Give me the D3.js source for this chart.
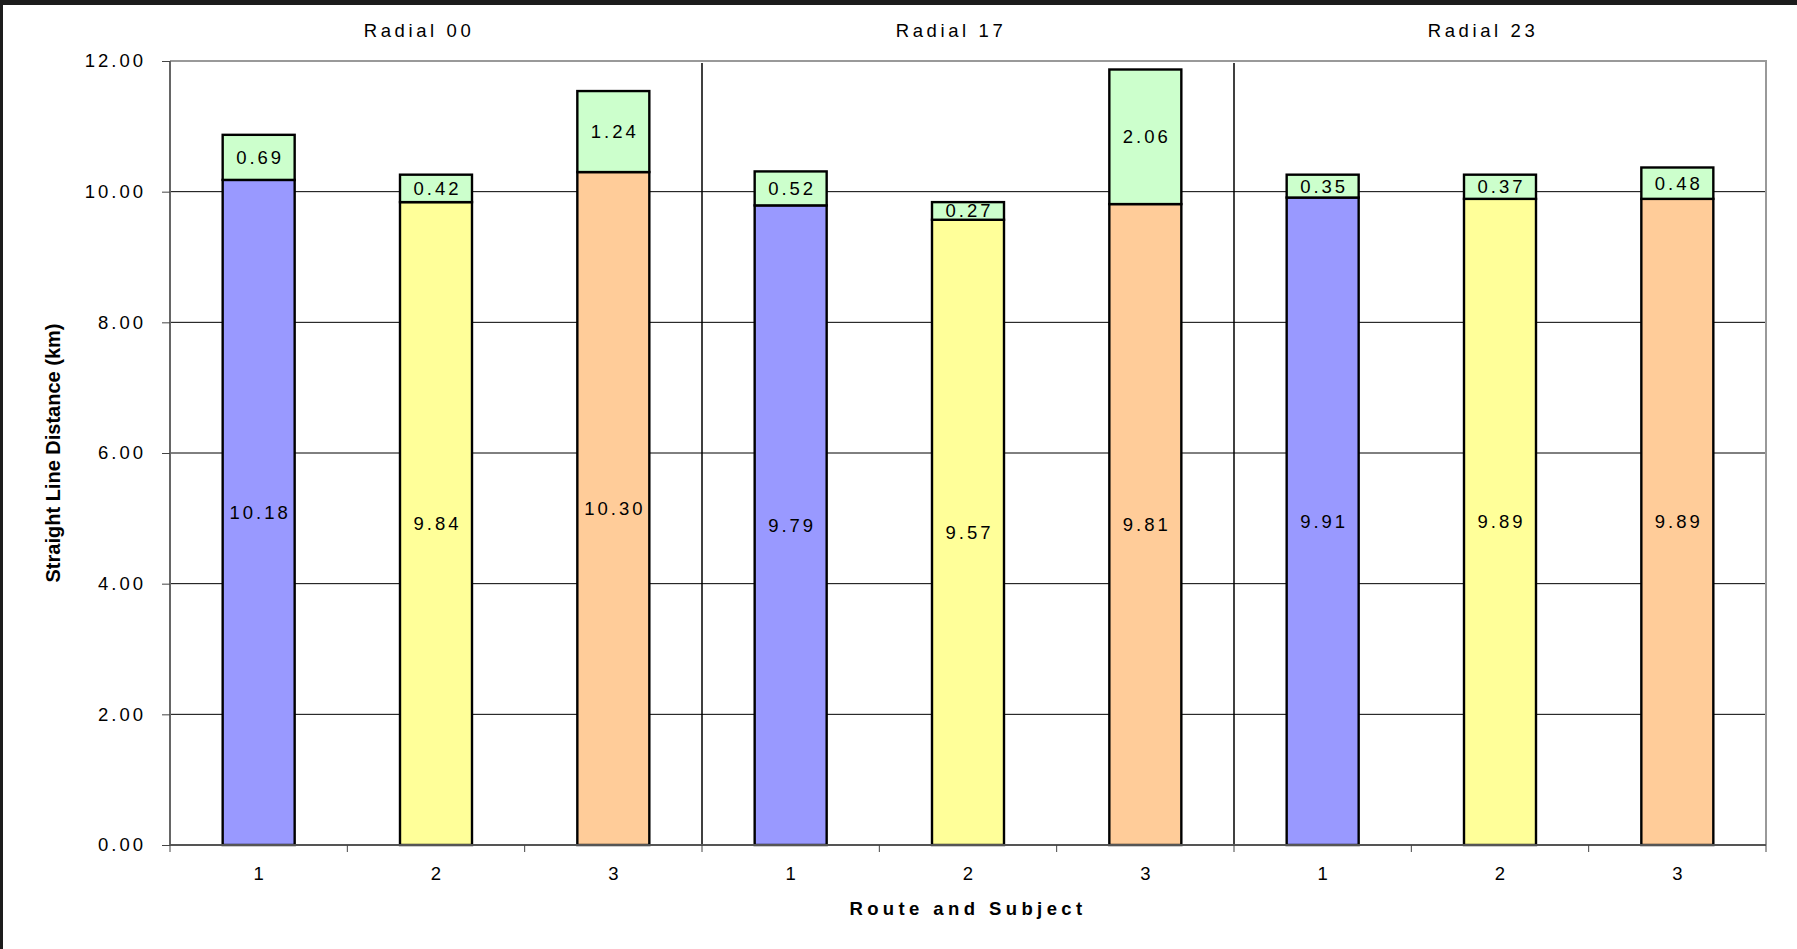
<!DOCTYPE html>
<html>
<head>
<meta charset="utf-8">
<script src="https://cdn.jsdelivr.net/npm/d3@7"></script>
<style>
  body { margin: 0; background: #ffffff; overflow: hidden; }
  text { font-family: "Liberation Sans", Arial, sans-serif; fill: #000; }
</style>
</head>
<body>
<div id="chart"></div>
<script>

// chart values
let radials = ["Radial 00", "Radial 17", "Radial 23"];
let subjects = ["1", "2", "3"];
let baseValues = [10.18, 9.84, 10.30, 9.79, 9.57, 9.81, 9.91, 9.89, 9.89];
let extraValues = [0.69, 0.42, 1.24, 0.52, 0.27, 2.06, 0.35, 0.37, 0.48];
let yTicks = [0, 2, 4, 6, 8, 10, 12];
let subjectColors = ["#9999ff", "#ffff99", "#ffcc99"];
let extraColor = "#ccffcc";

let svgWidth = 1797;
let svgHeight = 949;

let margin = {
    top: 61,
    right: 31,
    bottom: 104,
    left: 170
};

let width = svgWidth - margin.left - margin.right;
let height = svgHeight - margin.top - margin.bottom;

let svg = d3.select("#chart")
    .append("svg")
    .attr("width", svgWidth)
    .attr("height", svgHeight);

// dark frame edges of the original screenshot
svg.append("rect").attr("x", 0).attr("y", 0).attr("width", svgWidth).attr("height", 5).attr("fill", "#1c1c1c");
svg.append("rect").attr("x", 0).attr("y", 0).attr("width", 3).attr("height", svgHeight).attr("fill", "#1c1c1c");

let chartGroup = svg.append("g")
    .attr("transform", `translate(${margin.left}, ${margin.top})`);

let rows = [];
radials.forEach((r, i) => {
    subjects.forEach((s, j) => {
        let k = i * subjects.length + j;
        rows.push({ key: r + "-" + s, radial: i, subject: j, label: s, base: baseValues[k], extra: extraValues[k] });
    });
});

let xScale = d3.scaleBand()
    .domain(rows.map(d => d.key))
    .range([0, width])
    .paddingInner(0.594)
    .paddingOuter(0.297);

let yScale = d3.scaleLinear()
    .domain([0, 12])
    .range([height, 0]);

let step = xScale.step();

// gridlines
chartGroup.selectAll(".grid")
    .data(yTicks.filter(t => t > 0 && t < 12))
    .enter()
    .append("line")
    .attr("x1", 0)
    .attr("x2", width)
    .attr("y1", d => yScale(d))
    .attr("y2", d => yScale(d))
    .attr("stroke", "#000")
    .attr("stroke-width", 1);

// plot border top / right
chartGroup.append("path")
    .attr("d", `M0,${yScale(12)}H${width}V${height}`)
    .attr("fill", "none")
    .attr("stroke", "#999")
    .attr("stroke-width", 2);

// radial dividers
chartGroup.selectAll(".divider")
    .data([1, 2])
    .enter()
    .append("line")
    .attr("x1", d => d * 3 * step)
    .attr("x2", d => d * 3 * step)
    .attr("y1", 2)
    .attr("y2", height)
    .attr("stroke", "#000")
    .attr("stroke-width", 1.5);

// bars
let bars = chartGroup.selectAll(".bar")
    .data(rows)
    .enter()
    .append("g");

bars.append("rect")
    .attr("x", d => xScale(d.key))
    .attr("y", d => yScale(d.base))
    .attr("width", xScale.bandwidth())
    .attr("height", d => height - yScale(d.base))
    .attr("fill", d => subjectColors[d.subject])
    .attr("stroke", "#000")
    .attr("stroke-width", 2.4);

bars.append("rect")
    .attr("x", d => xScale(d.key))
    .attr("y", d => yScale(d.base + d.extra))
    .attr("width", xScale.bandwidth())
    .attr("height", d => yScale(d.base) - yScale(d.base + d.extra))
    .attr("fill", extraColor)
    .attr("stroke", "#000")
    .attr("stroke-width", 2.4);

bars.append("text")
    .attr("x", d => xScale(d.key) + xScale.bandwidth() / 2 + 1.5)
    .attr("y", d => yScale(d.base / 2))
    .attr("dy", "0.35em")
    .attr("text-anchor", "middle")
    .attr("font-size", "18.5px")
    .attr("letter-spacing", "3px")
    .text(d => d.base.toFixed(2));

bars.append("text")
    .attr("x", d => xScale(d.key) + xScale.bandwidth() / 2 + 1.5)
    .attr("y", d => yScale(d.base + d.extra / 2))
    .attr("dy", "0.35em")
    .attr("text-anchor", "middle")
    .attr("font-size", "18.5px")
    .attr("letter-spacing", "3px")
    .text(d => d.extra.toFixed(2));

// axes
let leftAxis = d3.axisLeft(yScale)
    .tickValues(yTicks)
    .tickSize(8)
    .tickPadding(16)
    .tickFormat(d3.format(".2f"));

let yAxis = chartGroup.append("g")
    .call(leftAxis);

yAxis.select(".domain").attr("stroke", "#666").attr("stroke-width", 2).attr("d", `M0,0V${height}`);
yAxis.selectAll(".tick line").attr("stroke", "#444");
yAxis.selectAll(".tick text")
    .attr("font-size", "18.5px")
    .attr("letter-spacing", "3px")
    .attr("font-family", "Liberation Sans, Arial, sans-serif")
    .attr("fill", "#000");

let xAxis = chartGroup.append("g")
    .attr("transform", `translate(0, ${height})`);

xAxis.append("line")
    .attr("x1", 0)
    .attr("x2", width)
    .attr("stroke", "#555")
    .attr("stroke-width", 2);

xAxis.selectAll(".xtick")
    .data(d3.range(rows.length + 1))
    .enter()
    .append("line")
    .attr("x1", d => d * step)
    .attr("x2", d => d * step)
    .attr("y1", 0)
    .attr("y2", 7)
    .attr("stroke", "#444");

xAxis.selectAll(".xlabel")
    .data(rows)
    .enter()
    .append("text")
    .attr("x", d => xScale(d.key) + xScale.bandwidth() / 2)
    .attr("y", 35)
    .attr("text-anchor", "middle")
    .attr("font-size", "18.5px")
    .text(d => d.label);

// radial titles
chartGroup.selectAll(".radial")
    .data(radials)
    .enter()
    .append("text")
    .attr("x", (d, i) => (i * 3 + 1.5) * step - 17)
    .attr("y", -24)
    .attr("text-anchor", "middle")
    .attr("font-size", "18.5px")
    .attr("letter-spacing", "3.6px")
    .text(d => d);

// axis titles
chartGroup.append("text")
    .attr("x", width / 2)
    .attr("y", height + 70)
    .attr("text-anchor", "middle")
    .attr("font-size", "18.5px")
    .attr("font-weight", "bold")
    .attr("letter-spacing", "4.4px")
    .text("Route and Subject");

chartGroup.append("text")
    .attr("transform", `translate(${60 - margin.left}, ${height / 2}) rotate(-90)`)
    .attr("text-anchor", "middle")
    .attr("font-size", "20px")
    .attr("font-weight", "bold")
    .text("Straight Line Distance (km)");

</script>
</body>
</html>
